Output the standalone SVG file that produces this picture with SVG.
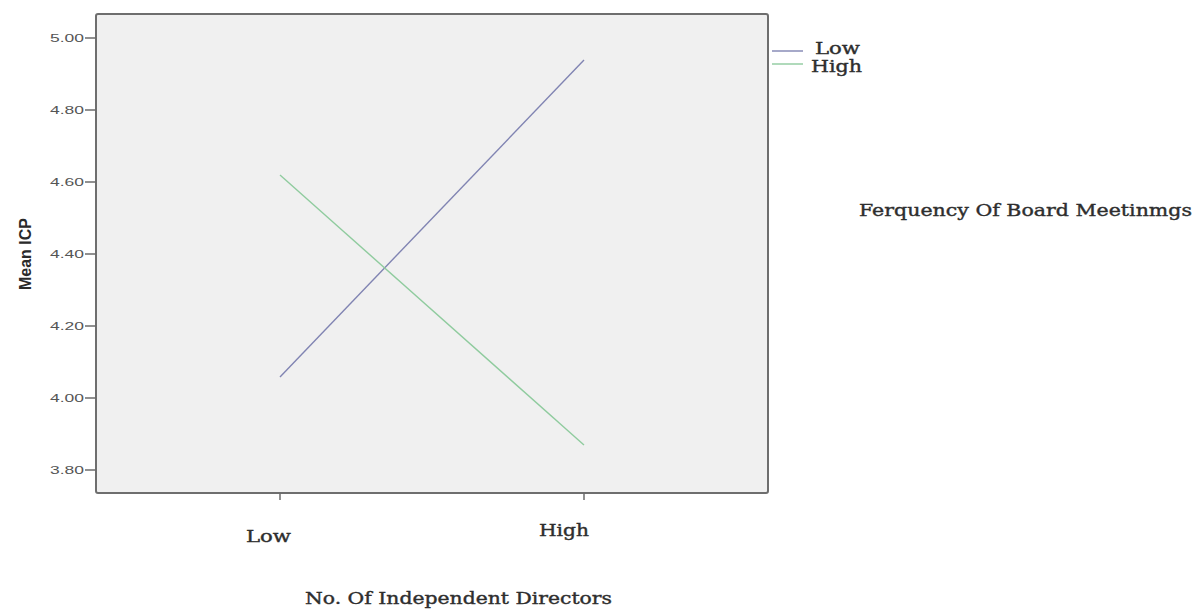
<svg xmlns="http://www.w3.org/2000/svg" width="1196" height="612" viewBox="0 0 1196 612">
<style>
.tick{stroke:#6b6b6b;stroke-width:1.5}
.ylab{font-family:"Liberation Sans",Arial,sans-serif;font-size:11px;fill:#555;text-anchor:end}
.ser{font-family:"DejaVu Serif","Liberation Serif",serif;fill:#2e2e2e;stroke:#2e2e2e;stroke-width:0.4}
.low{stroke:#8084b2;stroke-width:1.4;fill:none}
.high{stroke:#8fcb9e;stroke-width:1.4;fill:none}
</style>
<rect width="1196" height="612" fill="#ffffff"/>
<g id="plot">
<rect x="96" y="14" width="672" height="479" rx="2" fill="#f0f0f0" stroke="#6e6e6e" stroke-width="2"/>
</g>
<g id="y-axis">
<line class="tick" x1="85" y1="38" x2="96" y2="38"/>
<line class="tick" x1="85" y1="110" x2="96" y2="110"/>
<line class="tick" x1="85" y1="182" x2="96" y2="182"/>
<line class="tick" x1="85" y1="254" x2="96" y2="254"/>
<line class="tick" x1="85" y1="326" x2="96" y2="326"/>
<line class="tick" x1="85" y1="398" x2="96" y2="398"/>
<line class="tick" x1="85" y1="470" x2="96" y2="470"/>
<text class="ylab" x="84" y="42" textLength="34" lengthAdjust="spacingAndGlyphs">5.00</text>
<text class="ylab" x="84" y="114" textLength="34" lengthAdjust="spacingAndGlyphs">4.80</text>
<text class="ylab" x="84" y="186" textLength="34" lengthAdjust="spacingAndGlyphs">4.60</text>
<text class="ylab" x="84" y="258" textLength="34" lengthAdjust="spacingAndGlyphs">4.40</text>
<text class="ylab" x="84" y="330" textLength="34" lengthAdjust="spacingAndGlyphs">4.20</text>
<text class="ylab" x="84" y="402" textLength="34" lengthAdjust="spacingAndGlyphs">4.00</text>
<text class="ylab" x="84" y="474" textLength="34" lengthAdjust="spacingAndGlyphs">3.80</text>
<text x="31" y="254" transform="rotate(-90 31 254)" text-anchor="middle" font-family="'Liberation Sans',Arial,sans-serif" font-weight="bold" font-size="16" fill="#2a2a2a" textLength="72" lengthAdjust="spacingAndGlyphs">Mean ICP</text>
</g>
<g id="x-axis">
<line class="tick" x1="280" y1="493" x2="280" y2="500"/>
<line class="tick" x1="584" y1="493" x2="584" y2="500"/>
<text class="ser" x="246" y="542" font-size="17" textLength="45" lengthAdjust="spacingAndGlyphs">Low</text>
<text class="ser" x="539" y="536" font-size="17" textLength="50" lengthAdjust="spacingAndGlyphs">High</text>
<text class="ser" x="305" y="604" font-size="17" textLength="307" lengthAdjust="spacingAndGlyphs">No. Of Independent Directors</text>
</g>
<g id="connectors">
<line id="line-low" class="low" x1="280" y1="377" x2="584" y2="60"/>
<line id="line-high" class="high" x1="280" y1="175" x2="584" y2="445"/>
</g>
<g id="legend">
<line class="low" x1="772" y1="51" x2="803" y2="51"/>
<line class="high" x1="772" y1="64" x2="803" y2="64"/>
<text class="ser" x="815" y="54" font-size="17" textLength="45" lengthAdjust="spacingAndGlyphs">Low</text>
<text class="ser" x="811" y="72" font-size="17" textLength="51" lengthAdjust="spacingAndGlyphs">High</text>
<text class="ser" x="859" y="216" font-size="17" textLength="333" lengthAdjust="spacingAndGlyphs">Ferquency Of Board Meetinmgs</text>
</g>
</svg>
